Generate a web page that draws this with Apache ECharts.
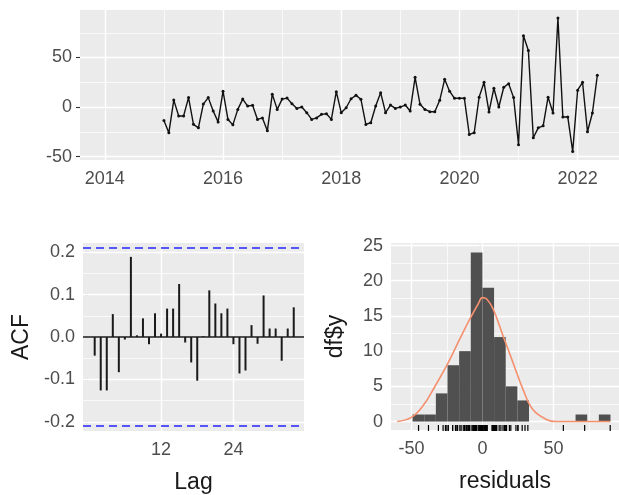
<!DOCTYPE html>
<html><head><meta charset="utf-8">
<script src="https://cdn.jsdelivr.net/npm/echarts@6/dist/echarts.min.js"></script>
<style>html,body{margin:0;padding:0;background:#fff}#c{width:619px;height:495px}</style>
</head><body><div id="c"></div>
<script>
// ---- data ----
const startYear = 2015;          // first residual: Jan 2015, monthly
const residuals = [
  -13.5, -26, 7, -9, -9, 9.5, -17.5, -21, 3, 9.5, -4, -15,
  16, -12.5, -18, -2.4, 8, 1, 1.7, -12.5, -11, -24, 13, -2.4,
  8, 9, 3.4, -1.4, 0, -5.7, -12.5, -11, -7.4, -6.8, -12.5, 15.5,
  -5.7, -0.7, 8.4, 11.8, 7.8, -17.6, -15.9, 1, 14.5, -5.7, 2, -1.4,
  0, 2, -4, 30, 2.7, -2.4, -4.7, -4.7, 6.8, 28, 16, 8.8,
  8.8, 8.8, -27.7, -26, 10, 25, -5, 19, 0, 20, 23.6, 9.5,
  -38, 72, 57, -31, -21, -19, 10, -6, 90, -10, -10, -45,
  17, 25, -25, -6, 32
];
const yearTicks = [2014, 2016, 2018, 2020, 2022];
const yearMinor = [2015, 2017, 2019, 2021];
const residTicks = [-50, 0, 50];
const residMinor = [-25, 25, 75];

const acfLags = [];
for (let i = 1; i <= 34; i++) acfLags.push(i);
const acfValues = [
  -0.044, -0.126, -0.126, 0.054, -0.083, -0.006, 0.189, 0.004, 0.044, -0.017,
  0.056, 0.008, 0.067, 0.067, 0.125, -0.013, -0.06, -0.103, 0.002, 0.11,
  0.079, 0.056, 0.067, -0.017, -0.086, -0.079, 0.028, -0.016, 0.098, 0.02,
  0.02, -0.056, 0.02, 0.07
];
const ciLimit = 0.2078;
const lagTicks = [12, 24];
const acfTicks = [-0.2, -0.1, 0, 0.1, 0.2];
const acfMinor = [-0.15, -0.05, 0.05, 0.15];

const binLeft = [-49.2, -41, -32.8, -24.6, -16.4, -8.2, 0, 8.2, 16.4, 24.6, 65.6, 82];
const binCounts = [1, 1, 4, 8, 10, 24, 19, 12, 5, 3, 1, 1];
const binWidth = 8.2;
const curveX = [-60, -50, -42, -34, -24, -16, -9, -3, 0, 3, 7.5, 14.5, 21.5, 28.5, 35.5, 45, 52, 60, 90];
const curveY = [0, 0.6, 2.2, 4.8, 8.4, 11.7, 14.5, 16.7, 17.6, 17.4, 16, 12.2, 8.4, 4.6, 1.7, 0.3, 0, 0, 0];
const histXTicks = [-50, 0, 50];
const histXMinor = [-25, 25, 75];
const histYTicks = [0, 5, 10, 15, 20, 25];
const histYMinor = [2.5, 7.5, 12.5, 17.5, 22.5];

// ---- styling helpers ----
const FONT = 'Liberation Sans, Arial, sans-serif';
const tickColor = '#333333';
const labColor = '#4d4d4d';
function gridLines(xMaj, xMin, yMaj, yMin) {
  const d = [];
  const maj = {color: '#ffffff', width: 1.4, type: 'solid'};
  const mn = {color: '#ffffff', width: 0.7, type: 'solid'};
  xMin.forEach(v => d.push({xAxis: v, lineStyle: mn}));
  yMin.forEach(v => d.push({yAxis: v, lineStyle: mn}));
  xMaj.forEach(v => d.push({xAxis: v, lineStyle: maj}));
  yMaj.forEach(v => d.push({yAxis: v, lineStyle: maj}));
  return d;
}
function xAx(idx, min, max, ticks, name, gap) {
  return {
    type: 'value', gridIndex: idx, min: min, max: max,
    axisLine: {show: false},
    splitLine: {show: false},
    axisTick: {show: true, length: 4, customValues: ticks, lineStyle: {color: tickColor, width: 1.1}},
    axisLabel: {customValues: ticks, color: labColor, fontSize: 18, fontFamily: FONT, margin: 10,
                formatter: v => String(v)},
    name: name, nameLocation: 'middle', nameGap: gap,
    nameTextStyle: {color: '#1a1a1a', fontSize: 23, fontFamily: FONT}
  };
}
function yAx(idx, min, max, ticks, name, gap, fmt) {
  return {
    type: 'value', gridIndex: idx, min: min, max: max,
    axisLine: {show: false},
    splitLine: {show: false},
    axisTick: {show: true, length: 4, customValues: ticks, lineStyle: {color: tickColor, width: 1.1}},
    axisLabel: {customValues: ticks, color: labColor, fontSize: 18, fontFamily: FONT, margin: 8,
                formatter: fmt || (v => String(v))},
    name: name, nameLocation: 'middle', nameGap: gap, nameRotate: 90,
    nameTextStyle: {color: '#1a1a1a', fontSize: 23, fontFamily: FONT}
  };
}

const chart = echarts.init(document.getElementById('c'), null, {renderer: 'canvas'});
const topData = residuals.map((v, i) => [startYear + i / 12, v]);

chart.setOption({
  animation: false,
  backgroundColor: '#ffffff',
  grid: [
    {left: 80, top: 10, width: 539, height: 150, show: true, backgroundColor: '#ebebeb', borderWidth: 0},
    {left: 83, top: 243, width: 221, height: 188, show: true, backgroundColor: '#ebebeb', borderWidth: 0},
    {left: 391, top: 243, width: 228, height: 187, show: true, backgroundColor: '#ebebeb', borderWidth: 0}
  ],
  xAxis: [
    xAx(0, 2013.58, 2022.70, yearTicks, '', 0),
    xAx(1, -0.94, 35.7, lagTicks, 'Lag', 40),
    xAx(2, -64.4, 96.2, histXTicks, 'residuals', 40)
  ],
  yAxis: [
    yAx(0, -53.5, 98, residTicks, '', 0),
    yAx(1, -0.2217, 0.2217, acfTicks, 'ACF', 50, v => v.toFixed(1)),
    yAx(2, -1.2, 25.36, histYTicks, 'df$y', 44)
  ],
  series: [
    // gridlines
    {type: 'line', xAxisIndex: 0, yAxisIndex: 0, data: [], z: 1, silent: true,
     markLine: {silent: true, symbol: ['none', 'none'], label: {show: false}, animation: false,
       data: gridLines(yearTicks, yearMinor, residTicks, residMinor)}},
    {type: 'line', xAxisIndex: 1, yAxisIndex: 1, data: [], z: 1, silent: true,
     markLine: {silent: true, symbol: ['none', 'none'], label: {show: false}, animation: false,
       data: gridLines(lagTicks, [], acfTicks, acfMinor)}},
    {type: 'line', xAxisIndex: 2, yAxisIndex: 2, data: [], z: 1, silent: true,
     markLine: {silent: true, symbol: ['none', 'none'], label: {show: false}, animation: false,
       data: gridLines(histXTicks, histXMinor, histYTicks, histYMinor)}},
    // top: residual time series
    {type: 'line', xAxisIndex: 0, yAxisIndex: 0, data: topData, z: 5,
     symbol: 'circle', symbolSize: 3, showSymbol: true,
     itemStyle: {color: '#111'}, lineStyle: {color: '#111', width: 1.4}},
    // ACF bars
    {type: 'bar', xAxisIndex: 1, yAxisIndex: 1, z: 5, barWidth: 2,
     data: acfLags.map((l, i) => [l, acfValues[i]]),
     itemStyle: {color: '#1a1a1a'},
     markLine: {silent: true, symbol: ['none', 'none'], label: {show: false}, animation: false,
       data: [
         {yAxis: 0, lineStyle: {color: '#1a1a1a', width: 1.5, type: 'solid'}},
         {yAxis: ciLimit, lineStyle: {color: '#2424ff', width: 1.7, type: [8, 5]}},
         {yAxis: -ciLimit, lineStyle: {color: '#2424ff', width: 1.7, type: [8, 5]}}
       ]}},
    // histogram
    {type: 'custom', xAxisIndex: 2, yAxisIndex: 2, z: 5,
     data: binLeft.map((b, i) => [b, binCounts[i]]),
     encode: {x: 0, y: 1},
     renderItem: function (params, api) {
       const x0 = api.value(0), c = api.value(1);
       const p0 = api.coord([x0, 0]);
       const p1 = api.coord([x0 + binWidth, c]);
       return {type: 'rect', shape: {x: p0[0], y: p1[1], width: p1[0] - p0[0], height: p0[1] - p1[1]},
               style: {fill: '#505050'}};
     }},
    // rug
    {type: 'custom', xAxisIndex: 2, yAxisIndex: 2, z: 6,
     data: residuals.map(v => [v, 0]),
     encode: {x: 0, y: 1},
     renderItem: function (params, api) {
       const p = api.coord([api.value(0), 0]);
       const bottom = params.coordSys.y + params.coordSys.height;
       return {type: 'line', shape: {x1: p[0], y1: bottom + 1, x2: p[0], y2: bottom - 5},
               style: {stroke: '#000', lineWidth: 1.2}};
     }},
    // normal density curve
    {type: 'line', xAxisIndex: 2, yAxisIndex: 2, z: 7, smooth: 0.4, showSymbol: false,
     data: curveX.map((x, i) => [x, curveY[i]]),
     lineStyle: {color: '#f4906e', width: 1.6}}
  ]
});
</script>
</body></html>
